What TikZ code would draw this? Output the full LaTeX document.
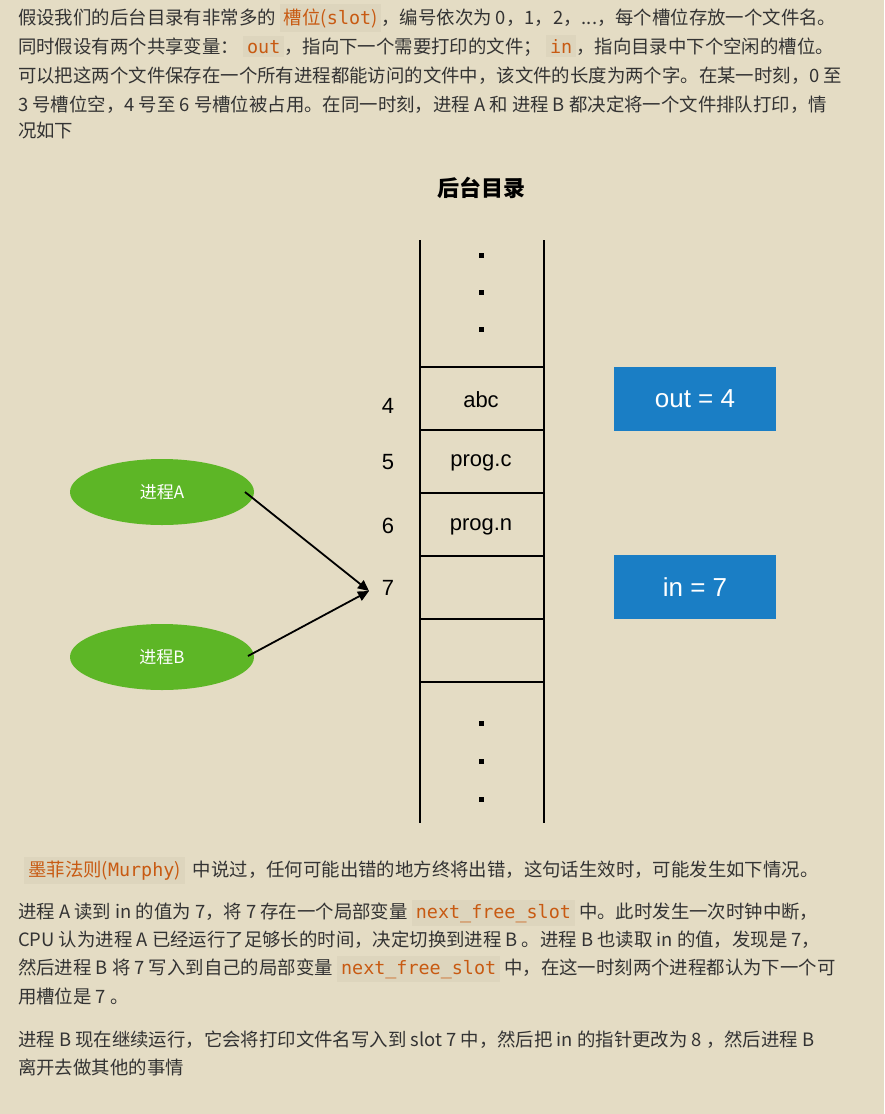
\documentclass[tikz,border=0pt]{standalone}
\usepackage{fontspec}
\setmainfont{Noto Sans CJK SC}
\newfontfamily\monof{DejaVu Sans Mono}
\newfontfamily\arialf{Liberation Sans}
\usetikzlibrary{arrows.meta,shapes.geometric}
\definecolor{bg}{HTML}{E4DCC4}
\definecolor{codebg}{HTML}{DDD5BD}
\definecolor{codefg}{HTML}{C85A12}
\definecolor{txt}{HTML}{333333}
\definecolor{bluebox}{HTML}{1A7EC5}
\definecolor{greenell}{HTML}{5DB626}
\newcommand{\cde}[1]{{\setlength{\fboxsep}{4pt}\colorbox{codebg}{\color{codefg}#1}}}
\tikzset{
  para/.style={anchor=base west, inner sep=0pt, text=txt, font=\fontsize{18.4}{22}\selectfont},
  cell/.style={font=\arialf\fontsize{22}{26}\selectfont},
  num/.style={font=\arialf\fontsize{22}{26}\selectfont},
  var/.style={fill=bluebox, text=white, minimum width=162pt, minimum height=64pt, font=\arialf\fontsize{26}{30}\selectfont},
  proc/.style={ellipse, fill=greenell, text=white, minimum width=184pt, minimum height=66pt, font=\fontsize{17}{20}\selectfont},
}
\begin{document}
\begin{tikzpicture}[x=1pt,y=-1pt]
\fill[bg] (0,0) rectangle (884,1114);
\useasboundingbox (0,0) rectangle (884,1114);
\node[para] (l1) at (18,24) {假设我们的后台目录有非常多的 \cde{槽位({\monof slot})}，编号依次为 0，1，2，...，每个槽位存放一个文件名。};
\node[para] (l2) at (18,53) {同时假设有两个共享变量： \cde{\monof out}，指向下一个需要打印的文件； \cde{\monof in}，指向目录中下个空闲的槽位。};
\node[para] (l3) at (18,82) {可以把这两个文件保存在一个所有进程都能访问的文件中，该文件的长度为两个字。在某一时刻，0 至};
\node[para] (l4) at (18,111) {3 号槽位空，4 号至 6 号槽位被占用。在同一时刻，进程 A 和 进程 B 都决定将一个文件排队打印，情};
\node[para] (l5) at (18,137) {况如下};
% diagram
\node[font=\fontsize{22}{26}\selectfont\bfseries] (title) at (481,188) {后台目录};
\draw[line width=1.5pt] (420,240) -- (420,823);
\draw[line width=1.5pt] (544,240) -- (544,823);
\foreach \y in {367,430,493,556,619,682} \draw[line width=1.5pt] (420,\y) -- (544,\y);
\foreach \y in {255,292,329,723,761,799} \fill (478.5,\y-2.5) rectangle (483.5,\y+2.5);
\node[cell] (c4) at (481,400) {abc};
\node[cell] (c5) at (481,463) {prog.c};
\node[cell] (c6) at (481,527) {prog.n};
\node[num] (n4) at (388,406) {4};
\node[num] (n5) at (388,462) {5};
\node[num] (n6) at (388,526) {6};
\node[num] (n7) at (388,588) {7};
\node[var] (out) at (695,398.5) {out = 4};
\node[var] (in) at (695,587) {in = 7};
\node[proc] (A) at (162,492) {进程A};
\node[proc] (B) at (162,657) {进程B};
\coordinate (t) at (369,591);
\draw[line width=1.8pt,-{Triangle[length=11pt,width=10pt]}] (245,492) -- (t);
\draw[line width=1.8pt,-{Triangle[length=11pt,width=10pt]}] (248,656) -- (t);
% bottom text
\node[para] (m1) at (24,876) {\cde{墨菲法则({\monof Murphy})} \ 中说过，任何可能出错的地方终将出错，这句话生效时，可能发生如下情况。};
\node[para] (m2) at (18,918) {进程 A 读到 in 的值为 7，将 7 存在一个局部变量 \cde{\monof next\_free\_slot} 中。此时发生一次时钟中断，};
\node[para] (m3) at (18,946) {CPU 认为进程 A 已经运行了足够长的时间，决定切换到进程 B 。进程 B 也读取 in 的值，发现是 7，};
\node[para] (m4) at (18,974) {然后进程 B 将 7 写入到自己的局部变量 \cde{\monof next\_free\_slot} 中，在这一时刻两个进程都认为下一个可};
\node[para] (m5) at (18,1003) {用槽位是 7 。};
\node[para] (m6) at (18,1046) {进程 B 现在继续运行，它会将打印文件名写入到 slot 7 中，然后把 in 的指针更改为 8 ，然后进程 B};
\node[para] (m7) at (18,1074) {离开去做其他的事情};
\end{tikzpicture}
\end{document}
